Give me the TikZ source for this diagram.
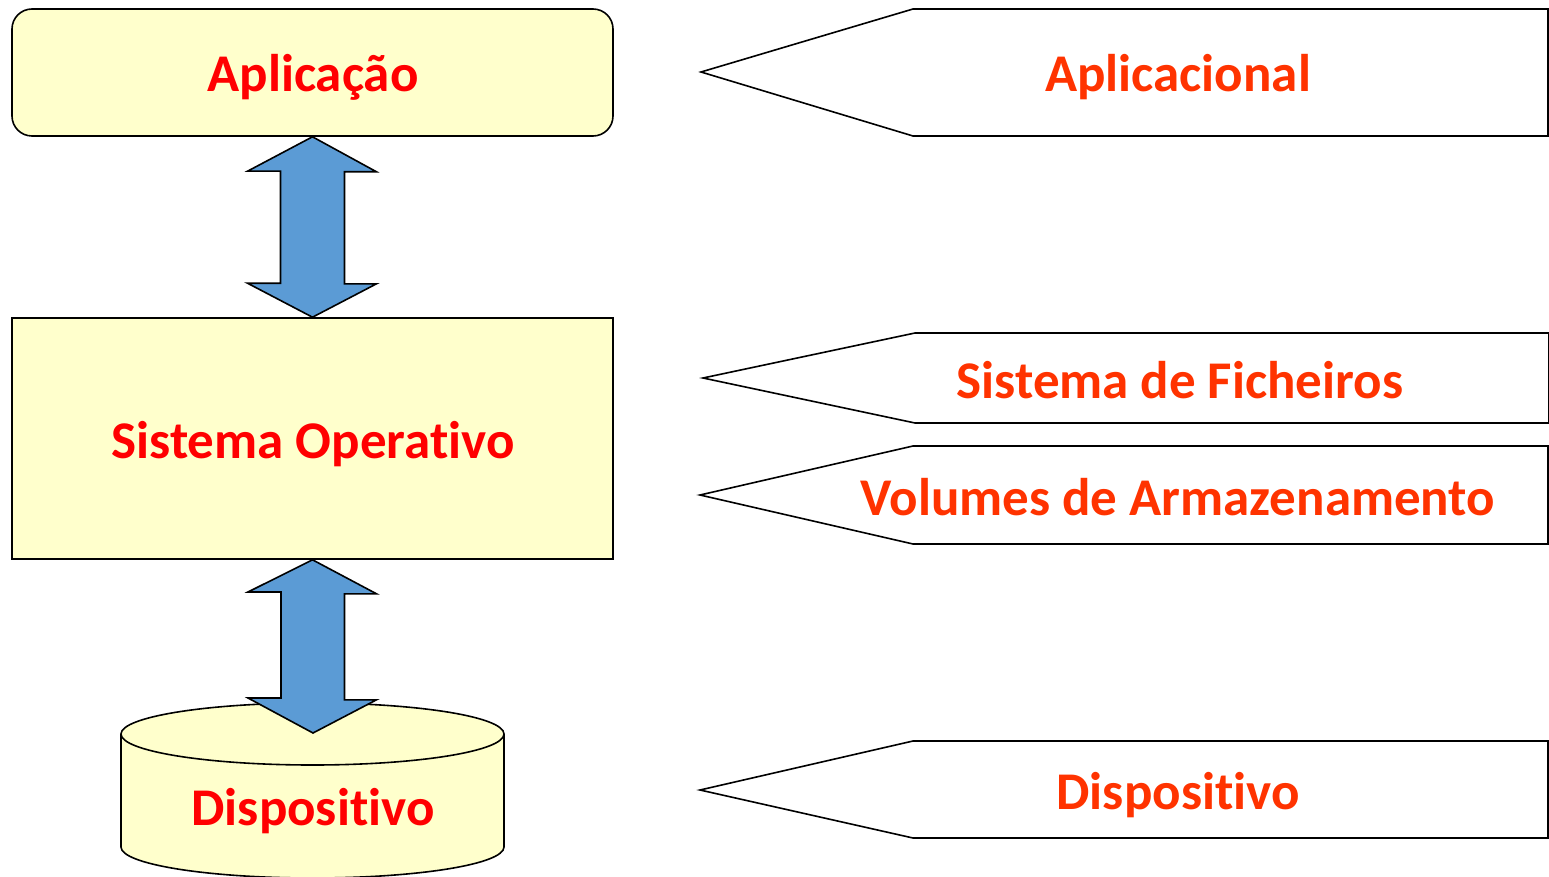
\documentclass[tikz,border=0pt]{standalone}
\usepackage{fontspec}
\setmainfont{Carlito}[Ligatures={NoCommon,NoRequired,NoContextual,NoRare}]
\definecolor{yel}{HTML}{FFFFCC}
\definecolor{blu}{HTML}{5B9BD5}
\definecolor{redL}{HTML}{FF0000}
\definecolor{redR}{HTML}{FF3300}
\tikzset{
  lbl/.style={font=\fontsize{53}{60}\selectfont\bfseries, inner sep=0pt, anchor=base},
  lblL/.style={lbl, text=redL},
  lblR/.style={lbl, text=redR},
  outl/.style={draw=black, line width=1.6pt},
  dblarrow/.style={outl, fill=blu, line join=miter},
}
\begin{document}
\begin{tikzpicture}[x=1pt,y=-1pt]
\useasboundingbox (0,0) rectangle (1549,877);
% Left column
\node[outl, fill=yel, rounded corners=20pt, minimum width=601pt, minimum height=127pt, inner sep=0pt] (app) at (312.5,72.5) {};
\node[lblL] (apptxt) at (313,92) {Aplicação};
\node[outl, fill=yel, minimum width=601pt, minimum height=241pt, inner sep=0pt] (so) at (312.5,438.5) {};
\node[lblL] (sotxt) at (313,458) {Sistema Operativo};
% Cylinder
\fill[yel] (121,734) -- (121,847) arc[start angle=180,end angle=360,x radius=191.5pt,y radius=31pt] -- (504,734) -- cycle;
\draw[outl] (121,734) -- (121,847) arc[start angle=180,end angle=360,x radius=191.5pt,y radius=31pt] -- (504,734);
\draw[outl, fill=yel] (312.5,734) ellipse [x radius=191.5pt, y radius=31pt];
\node[lblL] (disptxt) at (313,825) {Dispositivo};
\coordinate (disptop) at (313,733);
% Double arrows
\draw[dblarrow] (app.south) -- ++(64,35) -- ++(-32,0) -- ++(0,112) -- ++(32,0) -- (so.north) -- ++(-65,-34) -- ++(33,0) -- ++(0,-112) -- ++(-33,0) -- cycle;
\draw[dblarrow] (so.south) -- ++(64,34) -- ++(-32,0) -- ++(0,106) -- ++(32,0) -- (disptop) -- ++(-65,-35) -- ++(33,0) -- ++(0,-106) -- ++(-33,0) -- cycle;
% Right column
\draw[outl] (701,72) -- (913,9) -- (1548,9) -- (1548,136) -- (913,136) -- cycle;
\node[lblR] (r1) at (1178,92) {Aplicacional};
\draw[outl] (703,378) -- (915,333) -- (1549,333) -- (1549,423) -- (915,423) -- cycle;
\node[lblR] (r2) at (1180,398) {Sistema de Ficheiros};
\draw[outl] (700,495) -- (913,446) -- (1548,446) -- (1548,544) -- (913,544) -- cycle;
\node[lblR] (r3) at (1178,515) {Volumes de Armazenamento};
\draw[outl] (700,790) -- (913,741) -- (1548,741) -- (1548,838) -- (913,838) -- cycle;
\node[lblR] (r4) at (1178,809) {Dispositivo};
\end{tikzpicture}
\end{document}
